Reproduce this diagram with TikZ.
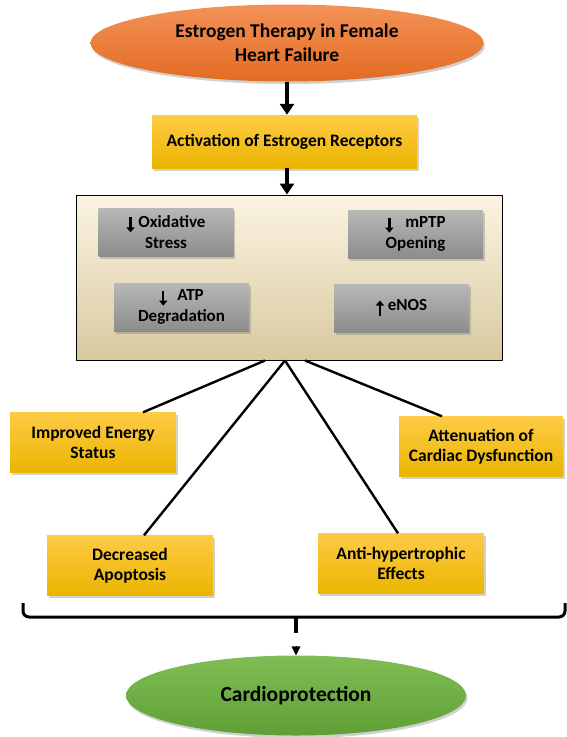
\documentclass[tikz,border=0pt]{standalone}
\usepackage{fontspec}
\setmainfont{Carlito}
\usetikzlibrary{shapes.geometric, arrows.meta, shadows, calc}

\definecolor{ovtop}{HTML}{F39257}
\definecolor{ovbot}{HTML}{E36B22}
\definecolor{boxtop}{HTML}{FDCB45}
\definecolor{boxbot}{HTML}{EBB500}
\definecolor{cream}{HTML}{FCF4E3}
\definecolor{tan}{HTML}{D8C99E}
\definecolor{grtop}{HTML}{80BE55}
\definecolor{grbot}{HTML}{5E9F36}

% small bold arrows used inside the grey boxes
\newcommand{\arrdown}{\tikz[baseline=0pt]\draw[line width=2.4pt,-{Triangle[length=5pt,width=8pt]}] (0pt,10pt)--(0pt,-5pt);}
\newcommand{\arrup}{\tikz[baseline=0pt]\draw[line width=2.4pt,-{Triangle[length=5pt,width=8pt]}] (0pt,-5pt)--(0pt,10pt);}

\begin{document}
\begin{tikzpicture}[x=1pt, y=-1pt, line join=round,
    sh/.style={drop shadow={shadow xshift=1.5pt, shadow yshift=-2.5pt, opacity=0.3, fill=black!60}},
    ybox/.style={sh, rectangle, top color=boxtop, bottom color=boxbot, minimum width=166pt, minimum height=60pt, align=center, font=\fontsize{17.5}{20.5}\selectfont\bfseries},
    gbox/.style={sh, rectangle, top color=black!28, bottom color=black!45, minimum width=135pt, minimum height=48pt, align=center, font=\fontsize{17}{21}\selectfont\bfseries},
    link/.style={line width=2.4pt},
    bigarrow/.style={line width=3.5pt, -{Triangle[length=11pt,width=14pt]}}]
  \useasboundingbox (0,0) rectangle (566,737);

  \node[ellipse, sh, top color=ovtop, bottom color=ovbot, minimum width=393pt, minimum height=77pt, align=center, font=\fontsize{19.5}{24}\selectfont\bfseries] (therapy) at (287,43) {Estrogen Therapy in Female\\Heart Failure};
  \node[ybox, minimum width=265pt, minimum height=53pt] (receptors) at (284.5,141.5) {Activation of Estrogen Receptors};

  % mitochondrial effects
  \node[draw, line width=1pt, top color=cream, bottom color=tan, minimum width=426pt, minimum height=165pt] (effects) at (289,277.5) {};
  \node[gbox] (oxid) at (166,232) {\arrdown\ Oxidative\\Stress};
  \node[gbox] (mptp) at (415.5,234) {\arrdown\hspace{12pt}mPTP\\Opening};
  \node[gbox] (atp) at (181.5,307) {\arrdown\hspace{10pt}ATP\\Degradation};
  \node[gbox] (enos) at (401.5,308) {\arrup\ eNOS};

  \draw[bigarrow] (therapy.south) -- (therapy.south |- receptors.north);
  \draw[bigarrow] (therapy.south |- receptors.south) -- (therapy.south |- effects.north);

  % outcomes
  \node[ybox] (energy) at (93,442.5) {Improved Energy\\Status};
  \node[ybox, minimum width=164pt] (atten) at (481,446.5) {Attenuation of\\Cardiac Dysfunction};
  \node[ybox] (apop) at (130,565.5) {Decreased\\Apoptosis};
  \node[ybox] (hyper) at (401,563.5) {Anti-hypertrophic\\Effects};

  \draw[link] ($(effects.south)+(-24,0)$) -- ($(energy.north)+(50,0)$);
  \draw[link] ($(effects.south)+(-4,0)$) -- ($(apop.north)+(14,0)$);
  \draw[link] ($(effects.south)+(-4,0)$) -- ($(hyper.north)+(-3,0)$);
  \draw[link] ($(effects.south)+(16,0)$) -- ($(atten.north)+(-39,0)$);

  % brace and result
  \draw[line width=3pt, rounded corners=6pt] (23,603) -- (23,617) -- (565,617) -- (565,603);
  \draw[line width=3.5pt] (296,617) -- (296,633) coordinate (tip);
  \node[ellipse, sh, top color=grtop, bottom color=grbot, minimum width=340pt, minimum height=80pt, font=\fontsize{21.5}{26}\selectfont\bfseries] (cardio) at (296,695.5) {Cardioprotection};
  \draw[line width=0.4pt, shorten <=13pt, -{Triangle[length=9pt,width=9pt]}] (tip) -- (cardio.north);
\end{tikzpicture}
\end{document}
